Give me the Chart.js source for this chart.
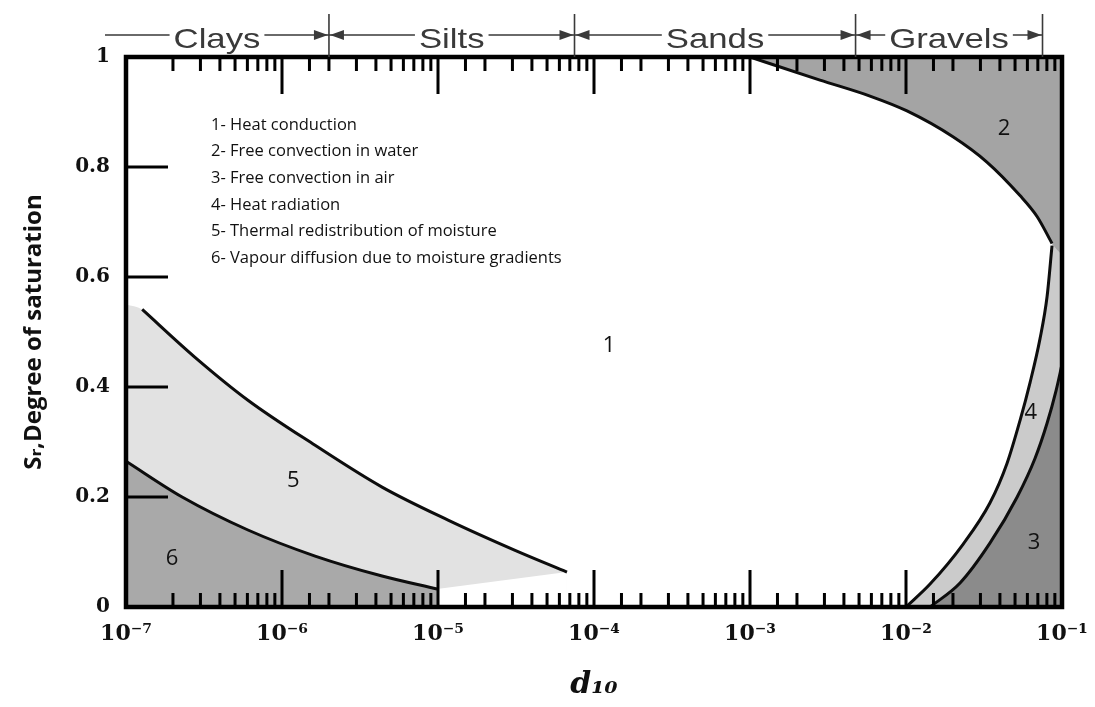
<!DOCTYPE html>
<html>
<head>
<meta charset="utf-8">
<script src="https://cdn.jsdelivr.net/npm/chart.js@4.4.1/dist/chart.umd.min.js"></script>
<style>
  html, body { margin: 0; padding: 0; background: #ffffff; }
  #wrap { width: 1095px; height: 707px; }
</style>
</head>
<body>
<div id="wrap"><canvas id="c" width="1095" height="707"></canvas></div>
<script>
// ---------------- data (d10 in metres, Sr = degree of saturation) ----------------
const xTickLabels = ['10⁻⁷', '10⁻⁶', '10⁻⁵', '10⁻⁴', '10⁻³', '10⁻²', '10⁻¹'];
const yTickLabels = ['0', '0.2', '0.4', '0.6', '0.8', '1'];
const X_MIN = 1e-7, X_MAX = 1e-1;

const soilNames  = ['Clays', 'Silts', 'Sands', 'Gravels'];
const soilBounds = [2e-6, 7.5e-5, 4.75e-3, 7.5e-2];   // upper limit of each class

const legendLines = [
  '1- Heat conduction',
  '2- Free convection in water',
  '3- Free convection in air',
  '4- Heat radiation',
  '5- Thermal redistribution of moisture',
  '6- Vapour diffusion due to moisture gradients'
];

const zoneNames    = ['1', '2', '3', '4', '5', '6'];
const zoneLabelD   = [1.25e-4, 0.0425, 0.0662, 0.0632, 1.18e-6, 1.97e-7];
const zoneLabelSr  = [0.475, 0.87, 0.116, 0.354, 0.229, 0.087];

// boundary of zone 2 (free convection in water)
const c2D  = [0.001, 0.00281, 0.005875, 0.01015, 0.0200, 0.0330, 0.0538, 0.0692, 0.0863];
const c2Sr = [1.0,   0.958,   0.929,    0.902,   0.855,  0.809,  0.748,  0.710,  0.661];
const zone2BorderSr = 0.64;            // where zone 2 meets the right frame

// boundary between zone 1 and zone 4 (heat radiation)
const lD  = [0.0100, 0.01426, 0.0232, 0.0345, 0.0444, 0.0538, 0.0624, 0.0723, 0.0802, 0.0863];
const lSr = [0.0,    0.0417,  0.114,  0.189,  0.261,  0.339,  0.408,  0.488,  0.564,  0.657];

// boundary between zone 4 and zone 3 (free convection in air)
const rD  = [0.01426, 0.0222, 0.0345, 0.0515, 0.0671, 0.0802, 0.0917, 0.1];
const rSr = [0.0,     0.0436, 0.116,  0.1996, 0.270,  0.334,  0.394,  0.441];

// upper boundary of zone 5 (thermal redistribution of moisture)
const u5D  = [1.27e-7, 2.77e-7, 6.05e-7, 1.63e-6, 4.38e-6, 1.16e-5, 3.12e-5, 6.71e-5];
const u5Sr = [0.541,   0.454,   0.376,   0.294,   0.218,   0.158,   0.103,   0.0635];
const zone5LeftSr = 0.55;              // top of zone 5 at the left frame

// boundary between zone 5 and zone 6 (vapour diffusion)
const l6D  = [1e-7,  2.29e-7, 6.05e-7, 1.63e-6, 4.38e-6, 9.87e-6];
const l6Sr = [0.265, 0.200,   0.140,   0.0926,  0.0563,  0.0327];

// ---------------- build ----------------
const pts = (ds, ss) => ds.map((d, i) => ({ x: d, y: ss[i] }));
const last = (ds, ss) => ({ x: ds[ds.length - 1], y: ss[ss.length - 1] });

const common = {
  showLine: true, pointRadius: 0, pointHoverRadius: 0,
  cubicInterpolationMode: 'monotone'
};
const lineDs = (data) => Object.assign({}, common, {
  data, borderColor: '#0d0d0d', borderWidth: 3, fill: false, order: 1
});
const fillDs = (data, color, fill, order) => Object.assign({}, common, {
  data, borderWidth: 0, borderColor: 'rgba(0,0,0,0)', backgroundColor: color, fill, order
});

const datasets = [
  lineDs(pts(c2D, c2Sr)),
  lineDs(pts(lD, lSr)),
  lineDs(pts(rD, rSr)),
  lineDs(pts(u5D, u5Sr)),
  lineDs(pts(l6D, l6Sr)),
  // zone 4 (light)
  fillDs(pts(lD, lSr).concat([{ x: X_MAX, y: 1 }]), '#cbcbcb', 'start', 10),
  // zone 3 (dark)
  fillDs(pts(rD, rSr), '#8b8b8b', 'start', 9),
  // zone 2 (medium)
  fillDs(pts(c2D, c2Sr).concat([{ x: X_MAX, y: zone2BorderSr }]), '#a4a4a4', 'end', 8),
  // zone 5 (very light) below its upper curve
  fillDs([{ x: X_MIN, y: zone5LeftSr }].concat(pts(u5D, u5Sr)), '#e2e2e2', 'start', 7),
  // zone 1 again (white) under the straight lower edge of zone 5
  fillDs([last(l6D, l6Sr), last(u5D, u5Sr)], '#ffffff', 'start', 6.5),
  // zone 6 (medium)
  fillDs(pts(l6D, l6Sr), '#a9a9a9', 'start', 6)
];

const isDecade = v => { const l = Math.log10(v); return Math.abs(l - Math.round(l)) < 1e-6; };

// frame, inward tick marks, legend text and zone numbers
const framePlugin = {
  id: 'frame',
  afterDatasetsDraw(chart) {
    const { ctx, chartArea: a, scales: { x, y } } = chart;
    ctx.save();
    ctx.strokeStyle = '#000';
    ctx.lineCap = 'butt';
    ctx.lineWidth = 3;
    x.ticks.forEach(t => {
      const px = x.getPixelForValue(t.value);
      const len = isDecade(t.value) ? 37 : 14;
      ctx.beginPath();
      ctx.moveTo(px, a.bottom); ctx.lineTo(px, a.bottom - len);
      ctx.moveTo(px, a.top);    ctx.lineTo(px, a.top + len);
      ctx.stroke();
    });
    y.ticks.forEach(t => {
      if (t.value <= 0.001 || t.value >= 0.999) return;
      const py = y.getPixelForValue(t.value);
      ctx.beginPath();
      ctx.moveTo(a.left, py); ctx.lineTo(a.left + 42, py);
      ctx.stroke();
    });
    ctx.lineWidth = 4.5;
    ctx.strokeRect(a.left, a.top, a.right - a.left, a.bottom - a.top);

    // legend text block
    ctx.fillStyle = '#111';
    ctx.font = '16.5px "Open Sans", "Noto Sans", sans-serif';
    ctx.textAlign = 'left';
    ctx.textBaseline = 'middle';
    legendLines.forEach((s, i) => ctx.fillText(s, a.left + 85, a.top + 68 + i * 26.6));

    // zone numbers
    ctx.font = '22px "Open Sans", "Noto Sans", sans-serif';
    ctx.textAlign = 'center';
    zoneNames.forEach((n, i) => {
      ctx.fillText(n, x.getPixelForValue(zoneLabelD[i]), y.getPixelForValue(zoneLabelSr[i]));
    });
    ctx.restore();
  }
};

// soil class header with arrows
const headerPlugin = {
  id: 'soilHeader',
  afterDraw(chart) {
    const { ctx, chartArea: a, scales: { x } } = chart;
    const yLine = 35, sx = 1.24, col = '#3a3a3a';
    const bx = soilBounds.map(v => x.getPixelForValue(v));
    const starts = [a.left - 21].concat(bx.slice(0, bx.length - 1));
    ctx.save();
    ctx.strokeStyle = col; ctx.fillStyle = col; ctx.lineWidth = 1.6;
    bx.forEach(px => {
      ctx.beginPath(); ctx.moveTo(px, 14); ctx.lineTo(px, a.top); ctx.stroke();
    });
    ctx.font = '28px "Liberation Sans", Arial, sans-serif';
    const arrow = (tip, dir) => {
      ctx.beginPath();
      ctx.moveTo(tip, yLine);
      ctx.lineTo(tip - dir * 14, yLine - 5);
      ctx.lineTo(tip - dir * 14, yLine + 5);
      ctx.closePath(); ctx.fill();
    };
    soilNames.forEach((name, i) => {
      const s = starts[i], e = bx[i], c = (s + e) / 2;
      const w = ctx.measureText(name).width * sx;
      ctx.save();
      ctx.translate(c, 48); ctx.scale(sx, 1);
      ctx.textAlign = 'center'; ctx.textBaseline = 'alphabetic';
      ctx.fillText(name, 0, 0);
      ctx.restore();
      ctx.beginPath();
      ctx.moveTo(s, yLine); ctx.lineTo(c - w / 2 - 4, yLine);
      ctx.moveTo(c + w / 2 + 4, yLine); ctx.lineTo(e, yLine);
      ctx.stroke();
      if (i > 0) arrow(s + 1, -1);
      arrow(e - 1, 1);
    });
    ctx.restore();
  }
};

new Chart(document.getElementById('c'), {
  type: 'scatter',
  data: { datasets },
  options: {
    responsive: false,
    animation: false,
    devicePixelRatio: 1,
    events: [],
    layout: { padding: { left: 0, right: 33, top: 57, bottom: 0 } },
    plugins: { legend: { display: false }, tooltip: { enabled: false } },
    scales: {
      x: {
        type: 'logarithmic', position: 'bottom', min: X_MIN, max: X_MAX,
        grid: { display: false, drawTicks: false },
        border: { display: false },
        afterFit: s => { s.height = 100; s.paddingLeft = 0; s.paddingRight = 0; },
        ticks: {
          autoSkip: false, maxRotation: 0, minRotation: 0, padding: 14,
          color: '#111',
          font: { family: '"DejaVu Serif", serif', size: 22, weight: 'bold' },
          callback: v => isDecade(v) ? xTickLabels[Math.round(Math.log10(v)) + 7] : ''
        },
        title: {
          display: true, text: 'd₁₀', color: '#111',
          font: { family: '"DejaVu Serif", serif', size: 30, weight: 'bold', style: 'italic' },
          padding: { top: 0, bottom: 4 }
        }
      },
      y: {
        type: 'linear', position: 'left', min: 0, max: 1,
        grid: { display: false, drawTicks: false },
        border: { display: false },
        afterFit: s => { s.width = 126; s.paddingTop = 0; s.paddingBottom = 0; },
        ticks: {
          stepSize: 0.2, padding: 16, color: '#111',
          font: { family: '"DejaVu Serif", serif', size: 20, weight: 'bold' },
          callback: (v, i) => yTickLabels[i]
        },
        title: {
          display: true, text: 'Sᵣ,Degree of saturation', color: '#111',
          font: { family: '"Open Sans", "DejaVu Sans", sans-serif', size: 24, weight: 'bold' },
          padding: { top: 20, bottom: 0 }
        }
      }
    }
  },
  plugins: [framePlugin, headerPlugin]
});
</script>
</body>
</html>
